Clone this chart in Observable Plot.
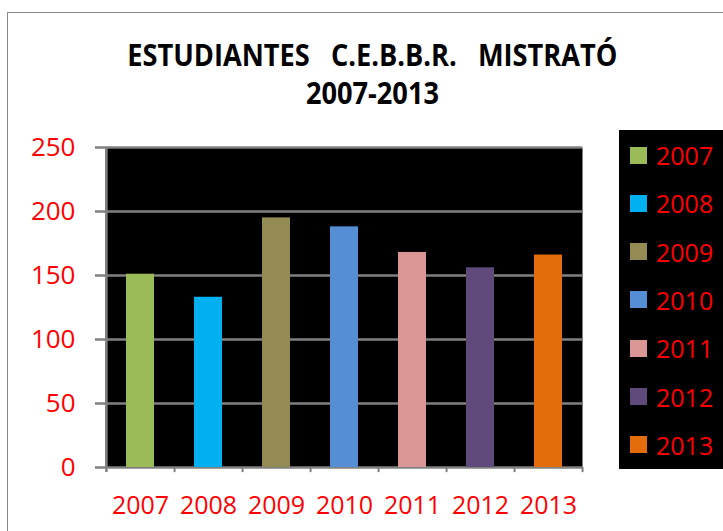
<!DOCTYPE html>
<html>
<head>
<meta charset="utf-8">
<script src="https://cdn.jsdelivr.net/npm/d3@7"></script>
<script src="https://cdn.jsdelivr.net/npm/@observablehq/plot@0.6"></script>
<style>
  html, body { margin: 0; padding: 0; background: #fff; }
  #root { position: relative; width: 723px; height: 531px; overflow: hidden; font-family: "Open Sans", sans-serif; }
  #frame { position: absolute; left: 7px; top: 12px; width: 730px; height: 540px; border: 1.5px solid #8a8a8a; box-sizing: border-box; }
  .title { position: absolute; left: 0; width: 745px; text-align: center; font-weight: bold; font-size: 30px; line-height: 30px; color: #000; white-space: pre; }
  .title span { display: inline-block; transform-origin: center; }
  #chart { position: absolute; left: 0; top: 120px; }
  #legend { position: absolute; left: 619px; top: 130px; width: 110px; height: 339px; background: #000; }
  .item { position: absolute; left: 11px; height: 30px; display: flex; align-items: center; }
  .sw { width: 17px; height: 17px; margin-right: 9px; }
  .lt { color: red; font-size: 25px; line-height: 30px; }
</style>
</head>
<body>
<div id="root">
  <div id="frame"></div>
  <div class="title" style="top:40px"><span id="t1"></span></div>
  <div class="title" style="top:78px"><span id="t2"></span></div>
  <div id="chart"></div>
  <div id="legend"></div>
</div>
<script>
const titleLine1 = "ESTUDIANTES   C.E.B.B.R.   MISTRATÓ";
const titleLine2 = "2007-2013";
const years = ["2007", "2008", "2009", "2010", "2011", "2012", "2013"];
const students = [151, 133, 195, 188, 168, 156, 166];
const colors = ["#9BBB59", "#00B0F0", "#948A54", "#558ED5", "#D99694", "#604A7B", "#E46C0A"];
const yTicks = [0, 50, 100, 150, 200, 250];

const t1 = document.getElementById("t1"), t2 = document.getElementById("t2");
t1.textContent = titleLine1;
t2.textContent = titleLine2;
const sx = 490 / t1.getBoundingClientRect().width;
t1.style.transform = `scaleX(${sx})`;
t2.style.transform = `scaleX(${sx})`;

const data = years.map((y, i) => ({year: y, value: students[i], color: colors[i]}));

const W = 600, H = 411, mL = 105, mR = 18, mT = 27, mB = 64;
const step = (W - mL - mR) / years.length;
const grey = "#808080";

const chart = Plot.plot({
  width: W, height: H,
  marginLeft: mL, marginRight: mR, marginTop: mT, marginBottom: mB,
  style: {fontFamily: "'Open Sans', sans-serif", background: "transparent", overflow: "visible"},
  x: {domain: years, paddingInner: 0.59, paddingOuter: 0.295},
  y: {domain: [0, 250]},
  marks: [
    Plot.frame({fill: "black", stroke: null}),
    Plot.ruleY(yTicks, {stroke: grey, strokeWidth: 2.5}),
    Plot.barY(data, {x: "year", y: "value", fill: "color"}),
    Plot.ruleX([years[0]], {x: d => d, dx: -step / 2, y1: -4, y2: 250, stroke: grey, strokeWidth: 2.5}),
    Plot.ruleX(years, {x: d => d, dx: step / 2, y1: -4, y2: 0, stroke: grey, strokeWidth: 2}),
    Plot.axisY({ticks: yTicks, tickSize: 10, tickPadding: 20, stroke: grey, strokeWidth: 2.5, fill: "red", fontSize: 26, label: null}),
    Plot.axisX({tickSize: 0, tickPadding: 29, fill: "red", fontSize: 25, label: null})
  ]
});
document.getElementById("chart").appendChild(chart);

const legend = document.getElementById("legend");
years.forEach((y, i) => {
  const item = document.createElement("div");
  item.className = "item";
  item.style.top = (10 + i * 48.3) + "px";
  item.innerHTML = `<div class="sw" style="background:${colors[i]}"></div><span class="lt">${y}</span>`;
  legend.appendChild(item);
});
</script>
</body>
</html>
